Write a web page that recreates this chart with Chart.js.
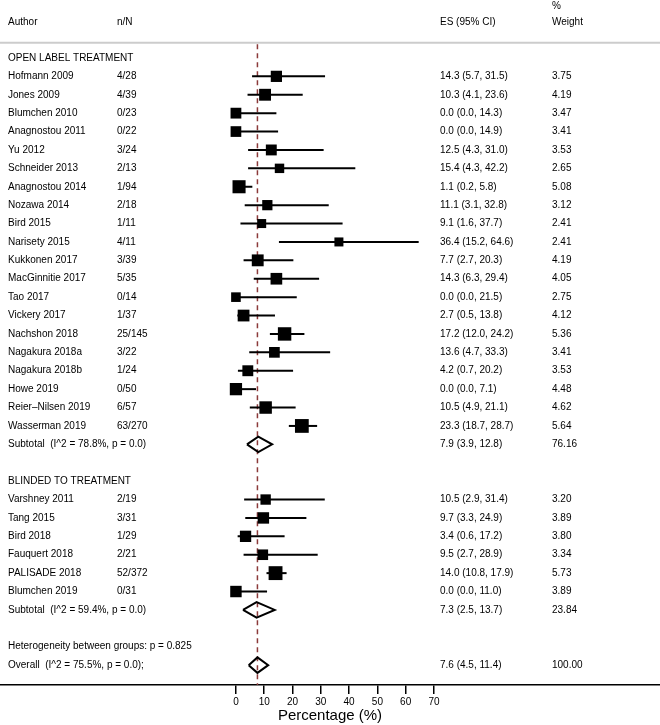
<!DOCTYPE html>
<html>
<head>
<meta charset="utf-8">
<script src="https://cdn.jsdelivr.net/npm/chart.js@4.4.0/dist/chart.umd.min.js"></script>
<style>
  html, body { margin: 0; background: #fff; }
</style>
</head>
<body>
<canvas id="forestCanvas" width="660" height="725"></canvas>
<script>
// open label studies
const openAuthors = ["Hofmann 2009", "Jones 2009", "Blumchen 2010", "Anagnostou 2011", "Yu 2012",
  "Schneider 2013", "Anagnostou 2014", "Nozawa 2014", "Bird 2015", "Narisety 2015",
  "Kukkonen 2017", "MacGinnitie 2017", "Tao 2017", "Vickery 2017", "Nachshon 2018",
  "Nagakura 2018a", "Nagakura 2018b", "Howe 2019", "Reier\u2013Nilsen 2019", "Wasserman 2019"];
const openCounts = ["4/28", "4/39", "0/23", "0/22", "3/24", "2/13", "1/94", "2/18", "1/11", "4/11",
  "3/39", "5/35", "0/14", "1/37", "25/145", "3/22", "1/24", "0/50", "6/57", "63/270"];
const openES = [14.3, 10.3, 0.0, 0.0, 12.5, 15.4, 1.1, 11.1, 9.1, 36.4, 7.7, 14.3, 0.0, 2.7, 17.2, 13.6, 4.2, 0.0, 10.5, 23.3];
const openLo = [5.7, 4.1, 0.0, 0.0, 4.3, 4.3, 0.2, 3.1, 1.6, 15.2, 2.7, 6.3, 0.0, 0.5, 12.0, 4.7, 0.7, 0.0, 4.9, 18.7];
const openHi = [31.5, 23.6, 14.3, 14.9, 31.0, 42.2, 5.8, 32.8, 37.7, 64.6, 20.3, 29.4, 21.5, 13.8, 24.2, 33.3, 20.2, 7.1, 21.1, 28.7];
const openWeight = [3.75, 4.19, 3.47, 3.41, 3.53, 2.65, 5.08, 3.12, 2.41, 2.41, 4.19, 4.05, 2.75, 4.12, 5.36, 3.41, 3.53, 4.48, 4.62, 5.64];

// blinded studies
const blindAuthors = ["Varshney 2011", "Tang 2015", "Bird 2018", "Fauquert 2018", "PALISADE 2018", "Blumchen 2019"];
const blindCounts = ["2/19", "3/31", "1/29", "2/21", "52/372", "0/31"];
const blindES = [10.5, 9.7, 3.4, 9.5, 14.0, 0.0];
const blindLo = [2.9, 3.3, 0.6, 2.7, 10.8, 0.0];
const blindHi = [31.4, 24.9, 17.2, 28.9, 17.9, 11.0];
const blindWeight = [3.20, 3.89, 3.80, 3.34, 5.73, 3.89];

// pooled estimates
const groupNames = ["OPEN LABEL TREATMENT", "BLINDED TO TREATMENT"];
const subtotalLabels = ["Subtotal  (I^2 = 78.8%, p = 0.0)", "Subtotal  (I^2 = 59.4%, p = 0.0)"];
const subtotalES = [7.9, 7.3];
const subtotalLo = [3.9, 2.5];
const subtotalHi = [12.8, 13.7];
const subtotalWeight = [76.16, 23.84];
const heterogeneityText = "Heterogeneity between groups: p = 0.825";
const overallLabel = "Overall  (I^2 = 75.5%, p = 0.0);";
const overallES = 7.6;
const overallLo = 4.5;
const overallHi = 11.4;
const overallWeight = 100.00;

const xTicks = [0, 10, 20, 30, 40, 50, 60, 70];

const FONT = "'Liberation Sans', Arial, sans-serif";
const ciText = (e, l, h) => e.toFixed(1) + " (" + l.toFixed(1) + ", " + h.toFixed(1) + ")";

// build the rows, one per line of the table
const rows = [];
let r = 0;
function addGroup(g, authors, counts, es, lo, hi, wt) {
  rows.push({ y: r++, author: groupNames[g], kind: "header" });
  authors.forEach((a, i) => {
    rows.push({ y: r++, author: a, n: counts[i], es: es[i], lo: lo[i], hi: hi[i], w: wt[i], kind: "study" });
  });
  rows.push({ y: r++, author: subtotalLabels[g], es: subtotalES[g], lo: subtotalLo[g], hi: subtotalHi[g], w: subtotalWeight[g], kind: "pooled" });
  r++; // blank line
}
addGroup(0, openAuthors, openCounts, openES, openLo, openHi, openWeight);
addGroup(1, blindAuthors, blindCounts, blindES, blindLo, blindHi, blindWeight);
rows.push({ y: r++, author: heterogeneityText, kind: "note" });
rows.push({ y: r++, author: overallLabel, es: overallES, lo: overallLo, hi: overallHi, w: overallWeight, kind: "pooled" });

const studies = rows.filter(d => d.kind === "study");
const pooled = rows.filter(d => d.kind === "pooled");

const datasets = [];

// confidence intervals
studies.forEach(d => {
  datasets.push({
    type: "line",
    data: [{ x: d.lo, y: d.y }, { x: d.hi, y: d.y }],
    borderColor: "#000",
    borderWidth: 2,
    pointRadius: 0
  });
});

// study squares, sized by weight
datasets.push({
  type: "scatter",
  data: studies.map(d => ({ x: d.es, y: d.y, w: d.w })),
  pointStyle: "rect",
  pointRadius: ctx => 4.1 * Math.sqrt(ctx.raw.w),
  backgroundColor: "#000",
  borderColor: "#000",
  borderWidth: 0
});

// pooled diamonds
pooled.forEach(d => {
  datasets.push({
    type: "line",
    data: [
      { x: d.lo, y: d.y }, { x: d.es, y: d.y - 0.42 }, { x: d.hi, y: d.y },
      { x: d.es, y: d.y + 0.42 }, { x: d.lo, y: d.y }
    ],
    borderColor: "#000",
    borderWidth: 2,
    pointRadius: 0,
    tension: 0
  });
});

// overall reference line
datasets.push({
  type: "line",
  data: [{ x: overallES, y: -0.75 }, { x: overallES, y: 34.1 }],
  borderColor: "#8b3a3a",
  borderWidth: 1.5,
  borderDash: [5, 4],
  pointRadius: 0
});

const tablePlugin = {
  id: "tableText",
  afterDatasetsDraw(chart) {
    const ctx = chart.ctx;
    const y = chart.scales.y;
    ctx.save();
    // header rule
    ctx.strokeStyle = "#cccccc";
    ctx.lineWidth = 2;
    ctx.beginPath();
    ctx.moveTo(0, y.getPixelForValue(-0.82));
    ctx.lineTo(660, y.getPixelForValue(-0.82));
    ctx.stroke();

    ctx.fillStyle = "#000";
    ctx.font = "10px " + FONT;
    ctx.textBaseline = "middle";
    ctx.textAlign = "left";
    const hy = y.getPixelForValue(-1.96);
    ctx.fillText("Author", 8, hy);
    ctx.fillText("n/N", 117, hy);
    ctx.fillText("ES (95% CI)", 440, hy);
    ctx.fillText("Weight", 552, hy);
    ctx.fillText("%", 552, y.getPixelForValue(-2.8));

    rows.forEach(d => {
      const py = y.getPixelForValue(d.y);
      ctx.fillText(d.author, 8, py);
      if (d.n) ctx.fillText(d.n, 117, py);
      if (d.es !== undefined) {
        ctx.fillText(ciText(d.es, d.lo, d.hi), 440, py);
        ctx.fillText(d.w.toFixed(2), 552, py);
      }
    });
    ctx.restore();
  }
};

new Chart(document.querySelector("#forestCanvas"), {
  type: "scatter",
  data: { datasets },
  options: {
    responsive: false,
    animation: false,
    layout: { padding: 0, autoPadding: false },
    plugins: { legend: { display: false }, tooltip: { enabled: false } },
    scales: {
      x: {
        type: "linear",
        min: -83.4,
        max: 149.9,
        afterBuildTicks: s => { s.ticks = xTicks.map(v => ({ value: v })); },
        afterFit: s => { s.height = 40; },
        grid: { drawOnChartArea: false, tickLength: 9, color: "#000", lineWidth: 1.5 },
        border: { color: "#000", width: 1.5 },
        ticks: { color: "#000", font: { family: FONT, size: 10 }, padding: 2, maxRotation: 0, autoSkip: false },
        title: { display: true, text: "Percentage (%)", color: "#000", font: { family: FONT, size: 15 }, padding: 0 }
      },
      y: {
        type: "linear",
        reverse: true,
        min: -3.15,
        max: 34.08,
        display: false
      }
    }
  },
  plugins: [tablePlugin]
});
</script>
</body>
</html>
